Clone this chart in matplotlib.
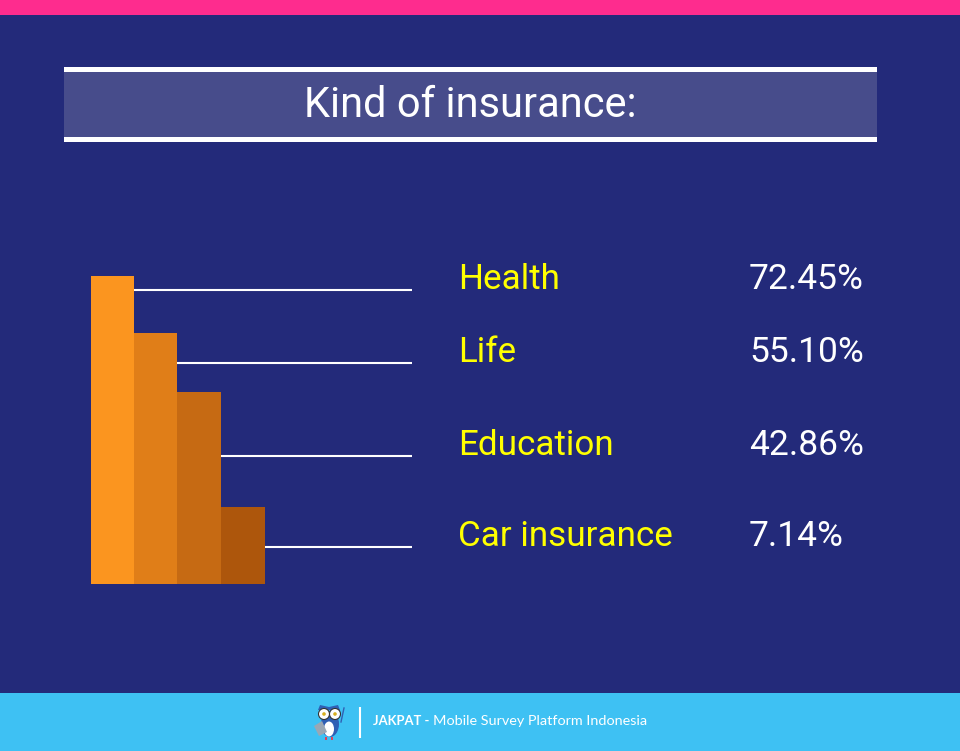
import matplotlib
matplotlib.use('Agg')
import matplotlib.pyplot as plt
from matplotlib.patches import Rectangle, Ellipse, Circle, Polygon

# Data
categories = ['Health', 'Life', 'Education', 'Car insurance']
labels = ['72.45%', '55.10%', '42.86%', '7.14%']
# the bars in the original are not to scale with the percentages,
# so these are their drawn heights
bar_heights = [308, 251, 192, 77]
bar_colors = ['#fb951f', '#e07e18', '#c66a13', '#ad560c']
bar_lefts = [91, 134, 177, 221]
bar_widths = [43, 43, 44, 44]
line_y = [290, 363, 456, 547]
text_y = [289, 362.5, 455, 546]

BASE = 584
NAVY = '#232a7a'

plt.rcParams['font.family'] = ['Roboto', 'DejaVu Sans']

fig = plt.figure(figsize=(9.6, 7.51), dpi=100, facecolor=NAVY)
ax = fig.add_axes([0, 0, 1, 1])
ax.set_xlim(0, 960)
ax.set_ylim(751, 0)
ax.axis('off')

# Top strip and footer
ax.add_patch(Rectangle((0, 0), 960, 15, color='#fe2c8e', lw=0))
ax.add_patch(Rectangle((0, 693), 960, 58, color='#3ec1f3', lw=0))

# Title band
ax.add_patch(Rectangle((64, 67), 813, 75, color='#474c8b', lw=0))
ax.add_patch(Rectangle((64, 67), 813, 5, color='white', lw=0))
ax.add_patch(Rectangle((64, 137), 813, 5, color='white', lw=0))
ax.text(470, 117, 'Kind of insurance:', color='white', fontsize=30,
        ha='center', va='baseline')

# Bars, leader lines and labels
ax.bar(bar_lefts, [-h for h in bar_heights], width=bar_widths, bottom=BASE,
       align='edge', color=bar_colors, lw=0)
for i in range(4):
    x0 = bar_lefts[i] + bar_widths[i]
    ax.plot([x0, 412], [line_y[i], line_y[i]], color='white', lw=1.5,
            solid_capstyle='butt')
    ax.text(458, text_y[i], categories[i], color='#ffff00', fontsize=25.2,
            ha='left', va='baseline')
    ax.text(749, text_y[i], labels[i], color='white', fontsize=25.5,
            ha='left', va='baseline')

# Footer owl, roughly
ax.add_patch(Polygon([(318, 710), (320, 705), (329, 707), (338, 705), (340, 710)],
                     color='#2f5fb4', lw=0))
ax.add_patch(Ellipse((330, 724), 18, 26, color='#2f5fb4', lw=0))
ax.add_patch(Ellipse((329, 729), 10, 15, color='white', lw=0))
ax.add_patch(Circle((324, 714), 5.5, fc='white', ec='#333333', lw=0.8))
ax.add_patch(Circle((335, 714), 5.5, fc='white', ec='#333333', lw=0.8))
ax.add_patch(Circle((324, 714), 1.8, color='#d8b020', lw=0))
ax.add_patch(Circle((335, 714), 1.8, color='#d8b020', lw=0))
ax.add_patch(Polygon([(314, 726), (322, 721), (327, 732), (319, 736)],
                     color='#9aa7b4', lw=0))
ax.plot([341, 344], [722, 708], color='#2f5fb4', lw=1)
ax.add_patch(Rectangle((325, 737), 2, 3, color='#e0405a', lw=0))
ax.add_patch(Rectangle((331, 737), 2, 3, color='#e0405a', lw=0))

# Footer text
ax.plot([360, 360], [707, 738], color='white', lw=1.5, solid_capstyle='butt')
ax.text(373, 721, 'JAKPAT -', color='white', fontsize=9.4,
        fontweight='bold', ha='left', va='center',
        family=['Lato', 'DejaVu Sans'])
ax.text(433, 721, 'Mobile Survey Platform Indonesia', color='white',
        fontsize=10.35, ha='left', va='center', family=['Lato', 'DejaVu Sans'])

fig.savefig('out.png', dpi=100, facecolor=NAVY)
